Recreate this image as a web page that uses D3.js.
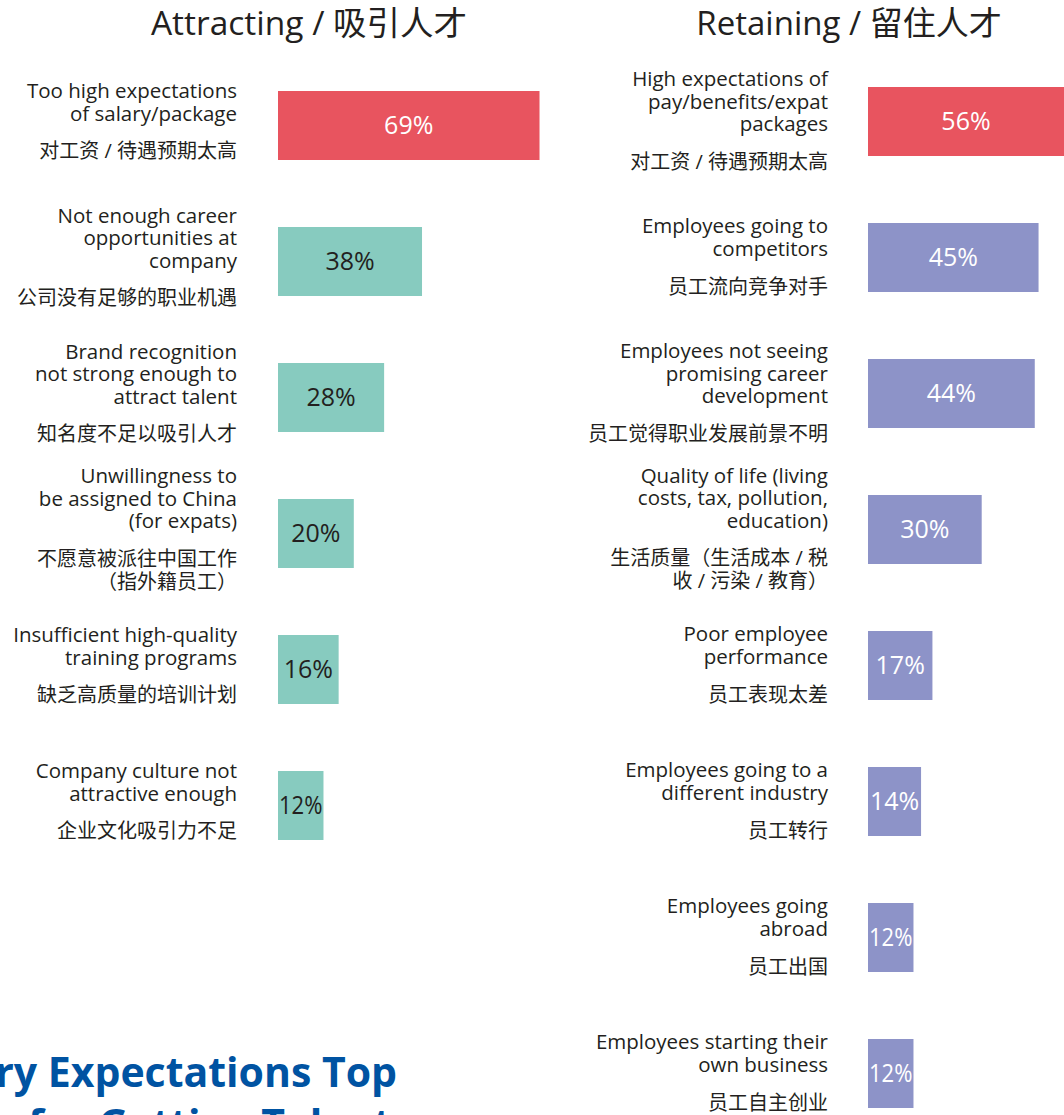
<!DOCTYPE html>
<html>
<head>
<meta charset="utf-8">
<script src="https://cdn.jsdelivr.net/npm/d3@7"></script>
<style>
    html, body { margin: 0; padding: 0; background: #fff; overflow: hidden; }
    svg { display: block; font-family: 'Open Sans', 'Noto Sans CJK SC', sans-serif; }
</style>
</head>
<body>
<div id="chart"></div>
<script>
// Panel titles
const panelTitles = ['Attracting / 吸引人才', 'Retaining / 留住人才'];

// Attracting talent
const attractEn = [
    ['Too high expectations', 'of salary/package'],
    ['Not enough career', 'opportunities at', 'company'],
    ['Brand recognition', 'not strong enough to', 'attract talent'],
    ['Unwillingness to', 'be assigned to China', '(for expats)'],
    ['Insufficient high-quality', 'training programs'],
    ['Company culture not', 'attractive enough']
];
const attractCn = [
    ['对工资 / 待遇预期太高'],
    ['公司没有足够的职业机遇'],
    ['知名度不足以吸引人才'],
    ['不愿意被派往中国工作', '（指外籍员工）'],
    ['缺乏高质量的培训计划'],
    ['企业文化吸引力不足']
];
const attractValues = [69, 38, 28, 20, 16, 12];

// Retaining talent
const retainEn = [
    ['High expectations of', 'pay/benefits/expat', 'packages'],
    ['Employees going to', 'competitors'],
    ['Employees not seeing', 'promising career', 'development'],
    ['Quality of life (living', 'costs, tax, pollution,', 'education)'],
    ['Poor employee', 'performance'],
    ['Employees going to a', 'different industry'],
    ['Employees going', 'abroad'],
    ['Employees starting their', 'own business']
];
const retainCn = [
    ['对工资 / 待遇预期太高'],
    ['员工流向竞争对手'],
    ['员工觉得职业发展前景不明'],
    ['生活质量（生活成本 / 税', '收 / 污染 / 教育）'],
    ['员工表现太差'],
    ['员工转行'],
    ['员工出国'],
    ['员工自主创业']
];
const retainValues = [56, 45, 44, 30, 17, 14, 12, 12];

// Headline (partly cut off at the bottom left)
const headline = ['Salary Expectations Top', 'for Getting Talent'];

const width = 1064;
const height = 1115;
const textColor = '#231f20';
const topColor = '#e8545f';

const svg = d3.select('#chart')
    .append('svg')
    .attr('width', width)
    .attr('height', height);

// same percent scale for both panels
const xScale = d3.scaleLinear().domain([0, 100]).range([0, 379]);

const step = 136;
const pad = 67 / 136;

function drawPanel(cfg) {
    const ids = cfg.values.map((d, i) => i);
    const yScale = d3.scaleBand()
        .domain(ids)
        .range([cfg.top - pad * step / 2, cfg.top - pad * step / 2 + ids.length * step])
        .paddingInner(pad)
        .paddingOuter(pad / 2);

    const g = svg.append('g');

    // title
    g.append('text')
        .attr('x', cfg.titleX)
        .attr('y', 35)
        .attr('text-anchor', 'middle')
        .attr('font-size', cfg.titleSize)
        .attr('fill', textColor)
        .text(cfg.title);

    const rows = g.selectAll('.row')
        .data(ids)
        .enter()
        .append('g')
        .attr('class', 'row');

    // bars
    rows.append('rect')
        .attr('x', cfg.barX)
        .attr('y', i => yScale(i))
        .attr('width', i => xScale(cfg.values[i]))
        .attr('height', yScale.bandwidth())
        .attr('fill', i => i === 0 ? topColor : cfg.color);

    // value labels, centred in the visible part of the bar
    rows.append('text')
        .attr('x', i => (cfg.barX + Math.min(cfg.barX + xScale(cfg.values[i]), width)) / 2)
        .attr('y', i => yScale(i) + yScale.bandwidth() / 2)
        .attr('dy', '0.35em')
        .attr('text-anchor', 'middle')
        .attr('font-size', 25)
        .attr('fill', i => (i === 0 || cfg.lightText) ? '#fff' : textColor)
        .text(i => cfg.values[i] + '%')
        .each(function (i) {
            // squeeze narrow bars' labels so they stay inside
            const room = xScale(cfg.values[i]) - 2;
            const len = this.getComputedTextLength();
            if (len > room) {
                d3.select(this).attr('textLength', room).attr('lengthAdjust', 'spacingAndGlyphs');
            }
        });

    // category labels: english lines, then chinese lines
    rows.each(function (i) {
        const en = cfg.en[i];
        const cn = cfg.cn[i];
        const lines = [];
        let y = 0;
        en.forEach(t => {
            lines.push({ t, y, size: 20.5 });
            y += 22.7;
        });
        y += 37.5 - 22.7;
        cn.forEach(t => {
            lines.push({ t, y, size: 20 });
            y += 23;
        });
        const last = lines[lines.length - 1].y;
        const mid = yScale(i) + yScale.bandwidth() / 2 + cfg.labelShift;
        const y0 = mid - last / 2;

        d3.select(this).selectAll('.lbl')
            .data(lines)
            .enter()
            .append('text')
            .attr('class', 'lbl')
            .attr('x', cfg.labelX)
            .attr('y', d => y0 + d.y)
            .attr('text-anchor', 'end')
            .attr('font-size', d => d.size)
            .attr('fill', textColor)
            .text(d => d.t);
    });
}

drawPanel({
    title: panelTitles[0], titleX: 309, titleSize: 33.5, top: 91,
    en: attractEn, cn: attractCn, values: attractValues,
    labelX: 237, barX: 278, color: '#87cbbf', lightText: false, labelShift: 2.5
});

drawPanel({
    title: panelTitles[1], titleX: 849, titleSize: 33, top: 87,
    en: retainEn, cn: retainCn, values: retainValues,
    labelX: 828, barX: 868, color: '#8d93c8', lightText: true, labelShift: 6
});

// headline
svg.append('text')
    .attr('x', 397)
    .attr('y', 1087)
    .attr('text-anchor', 'end')
    .attr('font-size', 41)
    .attr('font-weight', 'bold')
    .attr('fill', '#0053a2')
    .text(headline[0]);

svg.append('text')
    .attr('x', 28)
    .attr('y', 1139)
    .attr('font-size', 41)
    .attr('font-weight', 'bold')
    .attr('fill', '#0053a2')
    .text(headline[1]);
</script>
</body>
</html>
